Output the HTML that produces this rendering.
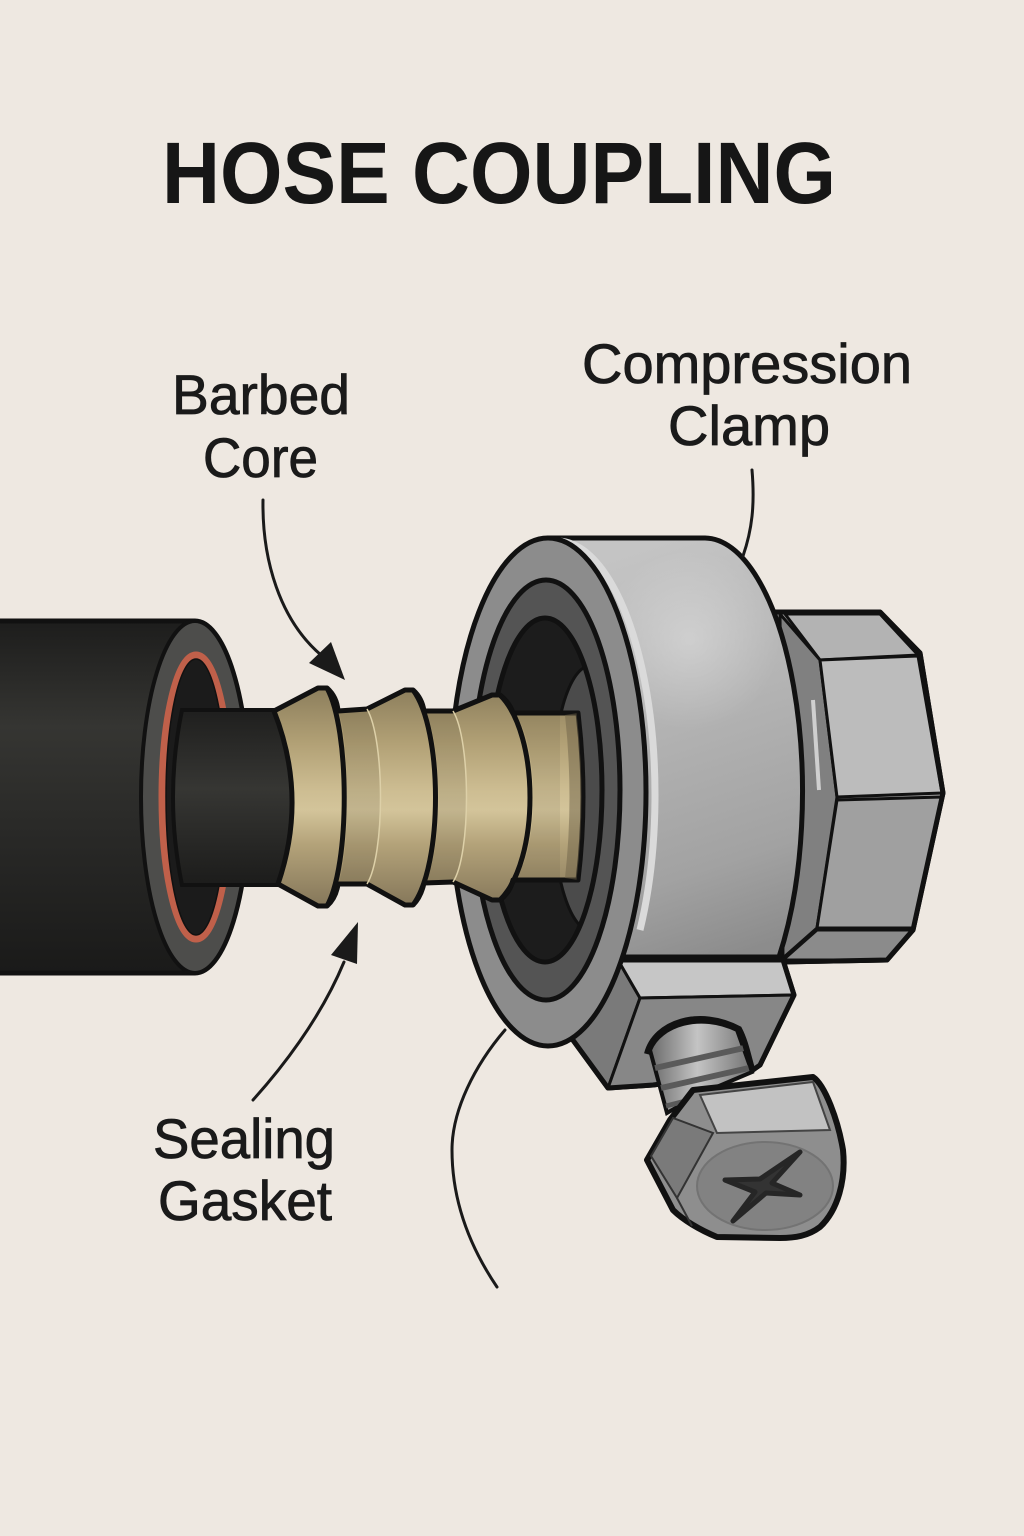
<!DOCTYPE html>
<html><head><meta charset="utf-8"><style>
html,body{margin:0;padding:0;background:#eee8e1;}
svg{display:block;}
</style></head><body>
<svg width="1024" height="1536" viewBox="0 0 1024 1536" xmlns="http://www.w3.org/2000/svg">
<defs>
<linearGradient id="hose" x1="0" y1="621" x2="0" y2="973" gradientUnits="userSpaceOnUse">
<stop offset="0" stop-color="#1d1d1c"/><stop offset="0.3" stop-color="#353532"/><stop offset="0.55" stop-color="#2b2b29"/><stop offset="1" stop-color="#1a1a19"/>
</linearGradient>
<linearGradient id="tube" x1="0" y1="710" x2="0" y2="885" gradientUnits="userSpaceOnUse">
<stop offset="0" stop-color="#1f1f1e"/><stop offset="0.45" stop-color="#363633"/><stop offset="1" stop-color="#1c1c1b"/>
</linearGradient>
<linearGradient id="brass" x1="0" y1="688" x2="0" y2="906" gradientUnits="userSpaceOnUse">
<stop offset="0" stop-color="#8c7e5c"/><stop offset="0.25" stop-color="#b1a075"/><stop offset="0.47" stop-color="#cdbd92"/><stop offset="0.56" stop-color="#d3c49a"/><stop offset="0.72" stop-color="#b3a279"/><stop offset="1" stop-color="#85775a"/>
</linearGradient>
<linearGradient id="band" x1="600" y1="560" x2="730" y2="957" gradientUnits="userSpaceOnUse">
<stop offset="0" stop-color="#c4c4c4"/><stop offset="0.4" stop-color="#b4b4b4"/><stop offset="0.78" stop-color="#a2a2a2"/><stop offset="1" stop-color="#8c8c8c"/>
</linearGradient>
<radialGradient id="hl" cx="690" cy="640" r="90" gradientUnits="userSpaceOnUse">
<stop offset="0" stop-color="#ffffff" stop-opacity="0.3"/><stop offset="1" stop-color="#ffffff" stop-opacity="0"/>
</radialGradient>
<linearGradient id="shaft" x1="650" y1="0" x2="755" y2="0" gradientUnits="userSpaceOnUse">
<stop offset="0" stop-color="#6a6a6a"/><stop offset="0.45" stop-color="#c4c4c4"/><stop offset="1" stop-color="#6e6e6e"/>
</linearGradient>
<clipPath id="holeclip"><ellipse cx="545" cy="790" rx="57" ry="172"/></clipPath>
</defs>

<rect x="0" y="0" width="1024" height="1536" fill="#eee8e1"/>

<!-- Title -->
<text x="162" y="203" font-family="Liberation Sans, Arial, sans-serif" font-weight="bold" font-size="87" textLength="674" lengthAdjust="spacingAndGlyphs" fill="#161616">HOSE COUPLING</text>

<!-- Labels -->
<g font-family="Liberation Sans, Arial, sans-serif" font-size="56" fill="#1a1a1a" stroke="#1a1a1a" stroke-width="0.8">
<text x="172" y="414" textLength="178" lengthAdjust="spacingAndGlyphs">Barbed</text>
<text x="203" y="477" textLength="115" lengthAdjust="spacingAndGlyphs">Core</text>
<text x="582" y="383" textLength="330" lengthAdjust="spacingAndGlyphs">Compression</text>
<text x="668" y="445" textLength="162" lengthAdjust="spacingAndGlyphs">Clamp</text>
<text x="153" y="1158" textLength="182" lengthAdjust="spacingAndGlyphs">Sealing</text>
<text x="158" y="1220" textLength="174" lengthAdjust="spacingAndGlyphs">Gasket</text>
</g>

<!-- Hex nut (behind) -->
<g stroke="#111" stroke-linejoin="round">
<polygon points="775,612 880,612 920,653 943,793 913,930 887,960 780,962" fill="#a5a5a5" stroke-width="5"/>
<polygon points="785,614 880,614 918,655 820,660" fill="#b3b3b3" stroke-width="3"/>
<polygon points="780,614 820,660 837,797 817,928 783,958" fill="#808080" stroke-width="3"/>
<polygon points="820,660 918,656 942,793 837,797" fill="#bcbcbc" stroke-width="3"/>
<polygon points="837,800 942,797 913,928 817,928" fill="#a0a0a0" stroke-width="3"/>
<polygon points="817,930 913,930 887,960 783,960" fill="#8b8b8b" stroke-width="3"/>
<polygon points="775,612 880,612 920,653 943,793 913,930 887,960 780,962" fill="none" stroke-width="5"/>
</g>
<path d="M813,700 L819,790" stroke="#cfcfcf" stroke-width="4" fill="none"/>

<!-- Band -->
<path d="M548,538 L705,538 A98,254 0 0 1 779,957 L548,957 Z" fill="url(#band)" stroke="#111" stroke-width="5" stroke-linejoin="round"/>
<path d="M548,538 L705,538 A98,254 0 0 1 779,957 L548,957 Z" fill="url(#hl)"/>
<path d="M555,541 A98,254 0 0 1 640,930" fill="none" stroke="#dadada" stroke-width="7"/>

<!-- Tab -->
<g stroke="#111" stroke-linejoin="round">
<path d="M618,960 L783,960 L794,995 L760,1065 L750,1072 L653,1085 L608,1088 L570,1036 L590,1000 Z" fill="#858585" stroke-width="5"/>
<polygon points="618,960 640,998 608,1088 570,1036 590,1000" fill="#7a7a7a" stroke-width="3"/>
<polygon points="618,960 783,960 794,995 640,998" fill="#c6c6c6" stroke-width="3"/>
<polygon points="640,998 794,995 760,1065 750,1072 653,1085 608,1088" fill="#878787" stroke-width="3"/>
<path d="M618,960 L783,960 L794,995 L760,1065 L750,1072 L653,1085 L608,1088 L570,1036" fill="none" stroke-width="5"/>
</g>

<!-- Flange face -->
<ellipse cx="548" cy="792" rx="98" ry="254" fill="#8c8c8c" stroke="#111" stroke-width="5"/>
<ellipse cx="546" cy="790" rx="74" ry="210" fill="#545454" stroke="#111" stroke-width="5"/>
<ellipse cx="545" cy="790" rx="57" ry="172" fill="#1c1c1c" stroke="#111" stroke-width="4"/>
<g clip-path="url(#holeclip)">
<ellipse cx="590" cy="798" rx="38" ry="132" fill="#4b4b4b" stroke="#111" stroke-width="3"/>
</g>
<ellipse cx="545" cy="790" rx="57" ry="172" fill="none" stroke="#111" stroke-width="5"/>

<!-- Screw shaft -->
<path d="M650,1050 C660,1025 700,1012 737,1030 L752,1072 L700,1094 L667,1113 Z" fill="url(#shaft)" stroke="#111" stroke-width="4"/>
<path d="M655,1068 L744,1048" stroke="#5a5a5a" stroke-width="6" fill="none"/>
<path d="M661,1088 L749,1068" stroke="#5a5a5a" stroke-width="6" fill="none"/>
<path d="M666,1106 L705,1096" stroke="#5a5a5a" stroke-width="5" fill="none"/>
<path d="M647,1054 C655,1022 700,1008 739,1029 C746,1042 749,1060 753,1072" stroke="#111" stroke-width="6" fill="none"/>

<!-- Screw head -->
<path d="M693,1090 L813,1077 C825,1085 838,1120 843,1150 C846,1180 838,1210 820,1227 C808,1236 795,1238 780,1238 L717,1237 C700,1230 683,1220 673,1210 L647,1160 L670,1120 Z" fill="#8e8e8e" stroke="#111" stroke-width="6" stroke-linejoin="round"/>
<polygon points="700,1095 813,1082 830,1130 717,1133" fill="#c2c2c2" stroke="#444" stroke-width="2"/>
<polygon points="651,1156 673,1118 713,1133 677,1198" fill="#7a7a7a" stroke="#333" stroke-width="2"/>
<path d="M677,1198 L692,1226" stroke="#333" stroke-width="2"/>
<ellipse cx="765" cy="1186" rx="68" ry="44" fill="#828282" stroke="#737373" stroke-width="2"/>
<polygon points="800,1152 772,1183 800,1195 766,1193 733,1221 755,1192 725,1180 760,1179" fill="#333" stroke="#262626" stroke-width="5" stroke-linejoin="round"/>

<!-- Hose -->
<path d="M0,621 L195,621 A54,176 0 0 1 195,973 L0,973" fill="url(#hose)" stroke="#111" stroke-width="5"/>
<ellipse cx="195" cy="797" rx="54" ry="176" fill="#4d4d4b" stroke="#111" stroke-width="4"/>
<ellipse cx="196" cy="797" rx="34" ry="142" fill="#1b1b1b" stroke="#c0604a" stroke-width="7"/>
<ellipse cx="196" cy="797" rx="30" ry="138" fill="none" stroke="#111" stroke-width="1.5"/>

<!-- Inner tube -->
<path d="M182,710 L300,710 L300,885 L182,885 Q164,797 182,710 Z" fill="url(#tube)" stroke="#111" stroke-width="4"/>

<!-- Brass core -->
<path d="M274,711 L318,688 L327,688 Q337,697 338,711 L367,709 L405,690 L413,690 Q422,698 424,711 L453,711 L492,695 L500,695 Q510,703 513,713 L578,713 Q588,797 578,880 L513,880 Q510,893 500,900 L492,900 L453,882 L424,883 Q421,897 413,905 L405,905 L367,884 L338,884 Q336,898 327,906 L318,906 L278,884 Q308,797 274,711 Z" fill="url(#brass)" stroke="#111" stroke-width="5" stroke-linejoin="round"/>
<path d="M338,711 L367,709 C385,740 385,855 367,884 L338,884 C350,860 350,735 338,711 Z" fill="#000" opacity="0.08"/>
<path d="M424,711 L453,711 C471,740 471,855 453,882 L424,883 C443,860 443,735 424,711 Z" fill="#000" opacity="0.08"/>
<path d="M513,713 L560,713 L560,880 L513,880 C540,860 540,735 513,713 Z" fill="#000" opacity="0.06"/>
<path d="M565,715 Q574,797 565,878 L578,880 Q588,797 578,713 Z" fill="#6e6248" opacity="0.5"/>
<path d="M367,709 C385,740 385,855 367,884" stroke="#ddd0a8" stroke-width="1.5" fill="none"/>
<path d="M453,711 C471,740 471,855 453,882" stroke="#ddd0a8" stroke-width="1.5" fill="none"/>
<path d="M327,688 C350,730 350,865 327,906" stroke="#111" stroke-width="5" fill="none"/>
<path d="M413,690 C443,730 443,865 413,905" stroke="#111" stroke-width="5" fill="none"/>
<path d="M500,695 C540,735 540,860 500,900" stroke="#111" stroke-width="5" fill="none"/>
<path d="M578,713 Q588,797 578,880" stroke="#111" stroke-width="3" fill="none"/>

<!-- Callouts -->
<g stroke="#1a1a1a" stroke-width="3" fill="none" stroke-linecap="round">
<path d="M263,500 C262,560 280,620 321,655"/>
<path d="M253,1100 C280,1070 320,1020 344,962"/>
<path d="M752,470 C755,505 752,530 743,556"/>
<path d="M505,1030 C475,1065 452,1110 452,1150 C452,1205 472,1250 497,1287"/>
</g>
<polygon points="345,680 309,663 331,642" fill="#1a1a1a"/>
<polygon points="358,922 331,955 357,964" fill="#1a1a1a"/>
</svg>
</body></html>
